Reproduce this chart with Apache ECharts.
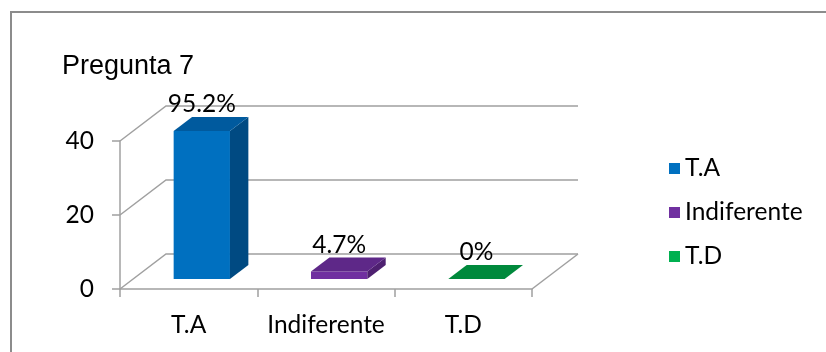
<!DOCTYPE html>
<html>
<head>
<meta charset="utf-8">
<script src="https://cdn.jsdelivr.net/npm/echarts@6/dist/echarts.min.js"></script>
<style>html,body{margin:0;padding:0;background:#fff}#c{width:826px;height:352px}</style>
</head>
<body>
<div id="c"></div>
<script>
const categories = ['T.A', 'Indiferente', 'T.D'];
const values = [40, 2, 0];
const percentLabels = ['95.2%', '4.7%', '0%'];
const yTicks = [0, 20, 40];
const titleText = 'Pregunta 7';

// styles
const faceColors = [
  {front: '#0070C0', top: '#005A9E', side: '#004A82', legend: '#0070C0'},
  {front: '#7030A0', top: '#5E2888', side: '#4E2070', legend: '#7030A0'},
  {front: '#00A04A', top: '#00893C', side: '#006E30', legend: '#00B050'}
];
const DX = 46, DY = -35;          // wall depth
const F0 = 10 / 35, FB = 14 / 35; // bar front plane and bar depth fractions
const LINE = '#a0a0a0';
const FONT = 'Lato';
const FS = 24.5;

const chart = echarts.init(document.getElementById('c'), null, {renderer: 'canvas'});

function wallsRender(params, api) {
  const cw = api.size([1, 0])[0];
  const left = api.coord([0, 0])[0] - cw / 2;
  const right = api.coord([categories.length - 1, 0])[0] + cw / 2;
  const children = [];
  const st = {stroke: LINE, lineWidth: 1.5, fill: null};
  yTicks.forEach(t => {
    const y = api.coord([0, t])[1];
    children.push({type: 'polyline', shape: {points: [[left, y], [left + DX, y + DY], [right + DX, y + DY]]}, style: st});
  });
  const y0 = api.coord([0, 0])[1];
  children.push({type: 'line', shape: {x1: right, y1: y0, x2: right + DX, y2: y0 + DY}, style: st});
  return {type: 'group', children};
}

function barRender(ci) {
  return function (params, api) {
    const i = api.value(0), v = api.value(1);
    const base = api.coord([i, 0]);
    const top = api.coord([i, v]);
    const cw = api.size([1, 0])[0];
    const w = cw * 0.41;
    const ox = DX * F0, oy = DY * F0;
    const bx = DX * FB, by = DY * FB;
    const x0 = base[0] + ox - w / 2, x1 = x0 + w;
    const yb = base[1] + oy, yt = top[1] + oy;
    const c = faceColors[ci];
    const children = [];
    if (yb - yt > 0.5) {
      children.push({type: 'polygon', shape: {points: [[x0, yt], [x1, yt], [x1, yb], [x0, yb]]}, style: {fill: c.front}});
      children.push({type: 'polygon', shape: {points: [[x1, yt], [x1 + bx, yt + by], [x1 + bx, yb + by], [x1, yb]]}, style: {fill: c.side}});
    }
    children.push({type: 'polygon', shape: {points: [[x0, yt], [x1, yt], [x1 + bx, yt + by], [x0 + bx, yt + by]]}, style: {fill: c.top}});
    children.push({type: 'text', x: (x0 + x1) / 2, y: yt - 27, style: {text: percentLabels[ci], font: FS + 'px ' + FONT, fill: '#000', align: 'center', verticalAlign: 'middle'}});
    return {type: 'group', children};
  };
}

const series = [{
  type: 'custom', name: '__walls', z: 1, silent: true,
  renderItem: wallsRender, data: [[0, 0]]
}];
categories.forEach((name, ci) => {
  series.push({
    type: 'custom', name, z: 3,
    itemStyle: {color: faceColors[ci].legend},
    renderItem: barRender(ci),
    data: [[ci, values[ci]]]
  });
});

chart.setOption({
  animation: false,
  backgroundColor: '#fff',
  grid: {left: 120, right: 294, top: 141, bottom: 63},
  graphic: [
    {type: 'rect', shape: {x: 11, y: 12, width: 840, height: 360}, style: {fill: null, stroke: '#8c8c8c', lineWidth: 2}, z: 0},
    {type: 'text', x: 62, y: 67, style: {text: titleText, font: '27px "Liberation Sans"', fill: '#000', verticalAlign: 'middle'}}
  ],
  legend: {
    data: categories,
    orient: 'vertical', left: 664, top: 151,
    itemWidth: 11, itemHeight: 11, itemGap: 19, icon: 'rect',
    textStyle: {fontFamily: FONT, fontSize: FS, color: '#000', padding: [0, 0, 0, 0]}
  },
  xAxis: {
    type: 'category', data: categories, boundaryGap: true,
    axisLine: {lineStyle: {color: LINE, width: 1.5}},
    axisTick: {show: true, length: 8, lineStyle: {color: LINE, width: 1.5}},
    axisLabel: {interval: 0, color: '#000', fontFamily: FONT, fontSize: FS, margin: 24}
  },
  yAxis: {
    type: 'value', min: 0, max: 40, interval: 20,
    axisLine: {show: true, lineStyle: {color: LINE, width: 1.5}},
    axisTick: {show: true, length: 8, lineStyle: {color: LINE, width: 1.5}},
    splitLine: {show: false},
    axisLabel: {color: '#000', fontFamily: FONT, fontSize: FS, margin: 26}
  },
  series
});
</script>
</body>
</html>
